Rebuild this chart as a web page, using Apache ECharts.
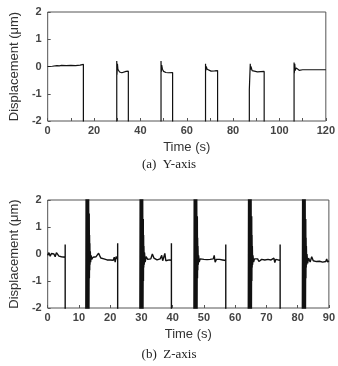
<!DOCTYPE html>
<html>
<head>
<meta charset="utf-8">
<script src="https://cdn.jsdelivr.net/npm/echarts@6/dist/echarts.min.js"></script>
<style>
  html, body { margin: 0; padding: 0; background: #fff; }
  #container { width: 338px; height: 366px; }
</style>
</head>
<body>
<div id="container"></div>
<script>
// Y-axis test: time (s), displacement (um); -2.5 means off the bottom of the plot
var yAxisData = [
  [0, 0], [2, 0.01], [4, 0.03], [5, 0.02], [6, 0.04], [8, 0.03], [10, 0.04], [12, 0.03], [14, 0.05], [15.4, 0.08],
  [15.4, -2.5], [29.8, -2.5],
  [29.8, 0.2], [29.9, -0.3], [30.1, 0.1], [30.3, -0.1], [30.6, -0.15], [31, -0.2], [32, -0.23], [33.8, -0.18], [34.8, -0.17],
  [34.8, -2.5], [48.9, -2.5],
  [48.9, 0.2], [49.0, -0.2], [49.2, 0.05], [49.5, -0.1], [50, -0.18], [51, -0.22], [52, -0.23], [53.9, -0.22],
  [53.9, -2.5], [68.1, -2.5],
  [68.1, 0.1], [68.2, -0.15], [68.4, 0.0], [68.8, -0.1], [69.5, -0.15], [70.5, -0.17], [72, -0.16], [73.3, -0.15],
  [73.3, -2.5], [87.0, -2.5], [87.0, -0.85], [87.4, -0.85],
  [87.4, 0.1], [87.5, -0.12], [87.7, 0.0], [88.2, -0.15], [89, -0.2], [90.5, -0.2], [93.4, -0.18],
  [93.4, -2.5], [106.3, -2.5],
  [106.3, 0.15], [106.4, -0.25], [106.6, 0.1], [106.8, -0.15], [107.2, -0.05], [107.7, -0.12], [108.5, -0.14], [110, -0.12], [115, -0.12], [120, -0.12]
];

// Z-axis test: time (s), displacement (um)
var zAxisData = [
  [0, -0.05], [0.4, 0.05], [0.8, -0.08], [1.2, 0.02], [1.6, -0.05], [2, 0.0], [2.4, -0.1], [2.8, 0.05], [3.2, -0.02], [3.6, -0.08],
  [4.0, -0.04], [4.4, -0.1], [4.8, -0.06], [5.6, -0.12], [5.6, 0.35],
  [5.6, -2.5], [12.2, -2.5],
  [12.3, 2.5], [12.4, -2.5], [12.5, 2.5], [12.6, -2.5], [12.7, 2.5], [12.8, -2.5], [12.9, 2.5], [13.0, -2.5], [13.1, 2.5], [13.2, -2.5],
  [13.3, 1.5], [13.35, -0.9], [13.4, 0.7], [13.45, -0.6], [13.5, 0.4], [13.55, -0.4], [13.65, 0.1], [13.75, -0.3], [13.9, -0.05],
  [14.1, -0.2], [14.5, -0.12], [15, -0.16], [15.5, -0.1], [16, -0.12], [16.3, 0.03], [16.6, -0.05], [17, -0.15], [17.5, -0.12],
  [18, -0.18], [18.5, -0.21], [19, -0.22], [19.5, -0.2], [20, -0.22], [20.5, -0.19], [21, -0.23], [21.3, -0.12], [21.6, -0.3],
  [21.9, -0.1], [22.4, -0.2], [22.4, 0.4],
  [22.4, -2.5], [29.5, -2.5],
  [29.6, 2.5], [29.7, -2.5], [29.8, 2.5], [29.9, -2.5], [30.0, 2.5], [30.1, -2.5], [30.2, 2.5], [30.3, -2.5], [30.4, 2.5], [30.5, -2.5],
  [30.6, 1.3], [30.65, -1.0], [30.7, 0.7], [30.75, -0.5], [30.8, 0.3], [30.9, -0.4], [31.0, 0.05], [31.2, -0.3], [31.5, -0.1],
  [32, -0.2], [32.5, -0.15], [33, -0.18], [33.5, 0.0], [34, -0.15], [34.5, -0.2], [35, -0.22], [35.5, -0.2], [36, -0.18],
  [36.5, -0.05], [36.8, -0.25], [37.2, -0.1], [37.5, 0.02], [37.8, -0.25], [38.2, -0.18], [38.9, -0.22], [39.6, -0.23],
  [39.6, 0.4], [39.6, -2.5], [46.8, -2.5],
  [46.9, 2.5], [47.0, -2.5], [47.1, 2.5], [47.2, -2.5], [47.3, 2.5], [47.4, -2.5], [47.5, 2.5], [47.6, -2.5], [47.7, 2.5], [47.8, -2.5],
  [47.9, 1.4], [47.95, -0.9], [48.0, 0.6], [48.05, -0.6], [48.1, 0.3], [48.2, -0.4], [48.3, -0.05], [48.5, -0.3], [48.8, -0.18],
  [49.3, -0.24], [50, -0.2], [50.5, -0.24], [51, -0.21], [51.5, -0.23], [52, -0.2], [52.5, -0.24], [53, -0.18], [53.3, -0.05],
  [53.6, -0.3], [54, -0.2], [54.5, -0.23], [55, -0.2], [55.5, -0.24], [56, -0.22], [56.3, -0.21], [57.0, -0.24], [57.0, 0.35],
  [57.0, -2.5], [64.2, -2.5],
  [64.3, 2.5], [64.4, -2.5], [64.5, 2.5], [64.6, -2.5], [64.7, 2.5], [64.8, -2.5], [64.9, 2.5], [65.0, -2.5], [65.1, 2.5], [65.2, -2.5],
  [65.3, 1.4], [65.35, -1.0], [65.4, 0.7], [65.45, -0.5], [65.5, 0.3], [65.6, -0.4], [65.7, -0.05], [65.9, -0.3], [66.2, -0.18],
  [66.7, -0.24], [67.2, -0.18], [67.6, -0.28], [68, -0.22], [68.5, -0.2], [69, -0.26], [69.5, -0.22], [70, -0.24], [70.5, -0.2],
  [71, -0.26], [71.5, -0.22], [72, -0.25], [72.4, -0.15], [72.7, -0.32], [73, -0.2], [73.7, -0.22], [74.4, -0.24], [74.4, 0.35],
  [74.4, -2.5], [81.5, -2.5],
  [81.6, 2.5], [81.7, -2.5], [81.8, 2.5], [81.9, -2.5], [82.0, 2.5], [82.1, -2.5], [82.2, 2.5], [82.3, -2.5], [82.4, 2.5], [82.5, -2.5],
  [82.6, 1.3], [82.65, -0.9], [82.7, 0.6], [82.75, -0.5], [82.8, 0.3], [82.9, -0.4], [83.0, 0.0], [83.2, -0.35], [83.5, -0.15],
  [84, -0.3], [84.5, -0.1], [85, -0.25], [85.5, -0.22], [86, -0.28], [86.5, -0.24], [87, -0.27], [87.5, -0.25], [88, -0.3],
  [88.5, -0.24], [89, -0.28], [89.3, -0.18], [89.6, -0.3], [90, -0.25]
];

var yTicks = [-2, -1, 0, 1, 2];

var chart = echarts.init(document.getElementById('container'));

var tickFont = { fontFamily: 'Liberation Sans', fontSize: 11, fontWeight: 'bold', color: '#444' };
var nameFont = { fontFamily: 'Liberation Sans', fontSize: 13, color: '#333' };

function xAxisFor(idx, max, labelEvery) {
  return {
    gridIndex: idx, type: 'value', min: 0, max: max, interval: 10,
    axisLine: { show: false, onZero: false },
    axisTick: { show: true, inside: true, length: 3, lineStyle: { color: '#555' } },
    splitLine: { show: false },
    axisLabel: Object.assign({
      margin: 4,
      formatter: function (v) { return v % labelEvery === 0 ? String(v) : ''; }
    }, tickFont),
    name: 'Time (s)', nameLocation: 'middle', nameGap: 20,
    nameTextStyle: nameFont
  };
}

function yAxisFor(idx) {
  return {
    gridIndex: idx, type: 'value', min: yTicks[0], max: yTicks[yTicks.length - 1], interval: 1,
    axisLine: { show: false, onZero: false },
    axisTick: { show: true, inside: true, length: 3, lineStyle: { color: '#555' } },
    splitLine: { show: false },
    axisLabel: Object.assign({ margin: 6 }, tickFont),
    name: 'Displacement (\u03bcm)', nameLocation: 'middle', nameGap: 20,
    nameTextStyle: nameFont
  };
}

var option = {
  animation: false,
  backgroundColor: '#fff',
  grid: [
    { left: 36, right: 9, top: 12, height: 109, show: true, borderColor: '#555', borderWidth: 1, backgroundColor: 'transparent' },
    { left: 36, right: 9, top: 200, height: 108, show: true, borderColor: '#555', borderWidth: 1, backgroundColor: 'transparent' }
  ],
  xAxis: [xAxisFor(0, 120, 20), xAxisFor(1, 90, 10)],
  yAxis: [yAxisFor(0), yAxisFor(1)],
  title: [
    { text: '(a)  Y-axis', left: 'center', top: 153, textStyle: { fontFamily: 'Liberation Serif', fontSize: 13, fontWeight: 'normal', color: '#222' } },
    { text: '(b)  Z-axis', left: 'center', top: 343, textStyle: { fontFamily: 'Liberation Serif', fontSize: 13, fontWeight: 'normal', color: '#222' } }
  ],
  series: [
    {
      type: 'line', xAxisIndex: 0, yAxisIndex: 0, data: yAxisData,
      showSymbol: false, clip: true,
      lineStyle: { color: '#111', width: 1.2 }
    },
    {
      type: 'line', xAxisIndex: 1, yAxisIndex: 1, data: zAxisData,
      showSymbol: false, clip: true,
      lineStyle: { color: '#111', width: 1.4 }
    }
  ]
};

chart.setOption(option);
</script>
</body>
</html>
